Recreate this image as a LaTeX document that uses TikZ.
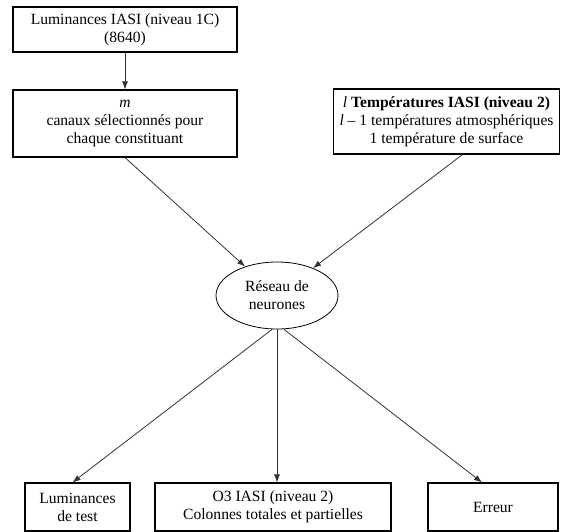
\documentclass[tikz,border=0pt]{standalone}
\usepackage{fontspec}
\setmainfont{Liberation Serif}
\usetikzlibrary{arrows.meta,shapes.geometric}
\begin{document}
\begin{tikzpicture}[x=1pt,y=-1pt,
  every node/.style={font=\fontsize{15.6}{18}\selectfont, align=center, inner sep=0pt},
  boxnode/.style={draw, line width=1.1pt, rectangle},
  ellnode/.style={draw, line width=0.8pt, ellipse},
  conn/.style={line width=0.8pt, draw=black!80, -{Latex[length=8pt,width=6pt]}}]
\useasboundingbox (0,0) rectangle (562,532);
\node[boxnode, minimum width=224pt, minimum height=45pt] (b1) at (125,29.5)
  {Luminances IASI (niveau 1C)\\(8640)};
\node[boxnode, minimum width=224pt, minimum height=67pt] (b2) at (125,123.5)
  {\textit{m}\\canaux sélectionnés pour\\chaque constituant};
\node[boxnode, minimum width=226pt, minimum height=65pt] (b3) at (446.5,121.5)
  {\textit{l} \textbf{Températures IASI (niveau 2)}\\\textit{l} -- 1 températures atmosphériques\\1 température de surface};
\node[ellnode, minimum width=122pt, minimum height=67pt] (ell) at (277,295.5)
  {Réseau de\\neurones};
\node[boxnode, minimum width=105pt, minimum height=48pt] (lum) at (77.5,507)
  {Luminances\\de test};
\node[boxnode, minimum width=236pt, minimum height=48pt] (o3) at (273,507)
  {O3 IASI (niveau 2)\\Colonnes totales et partielles};
\node[boxnode, minimum width=130pt, minimum height=48pt] (err) at (493,507)
  {Erreur};
\draw[conn] (b1.south) -- (b2.north);
\draw[conn] (b2.south) -- (ell);
\draw[conn] ([xshift=16pt]b3.south) -- (ell);
\draw[conn] ([xshift=-5pt]ell.south) -- ([xshift=-5pt]lum.north);
\draw[conn] (ell.south) -- (ell.south |- o3.north);
\draw[conn] ([xshift=7pt]ell.south) -- ([xshift=-11pt]err.north);
\end{tikzpicture}
\end{document}
